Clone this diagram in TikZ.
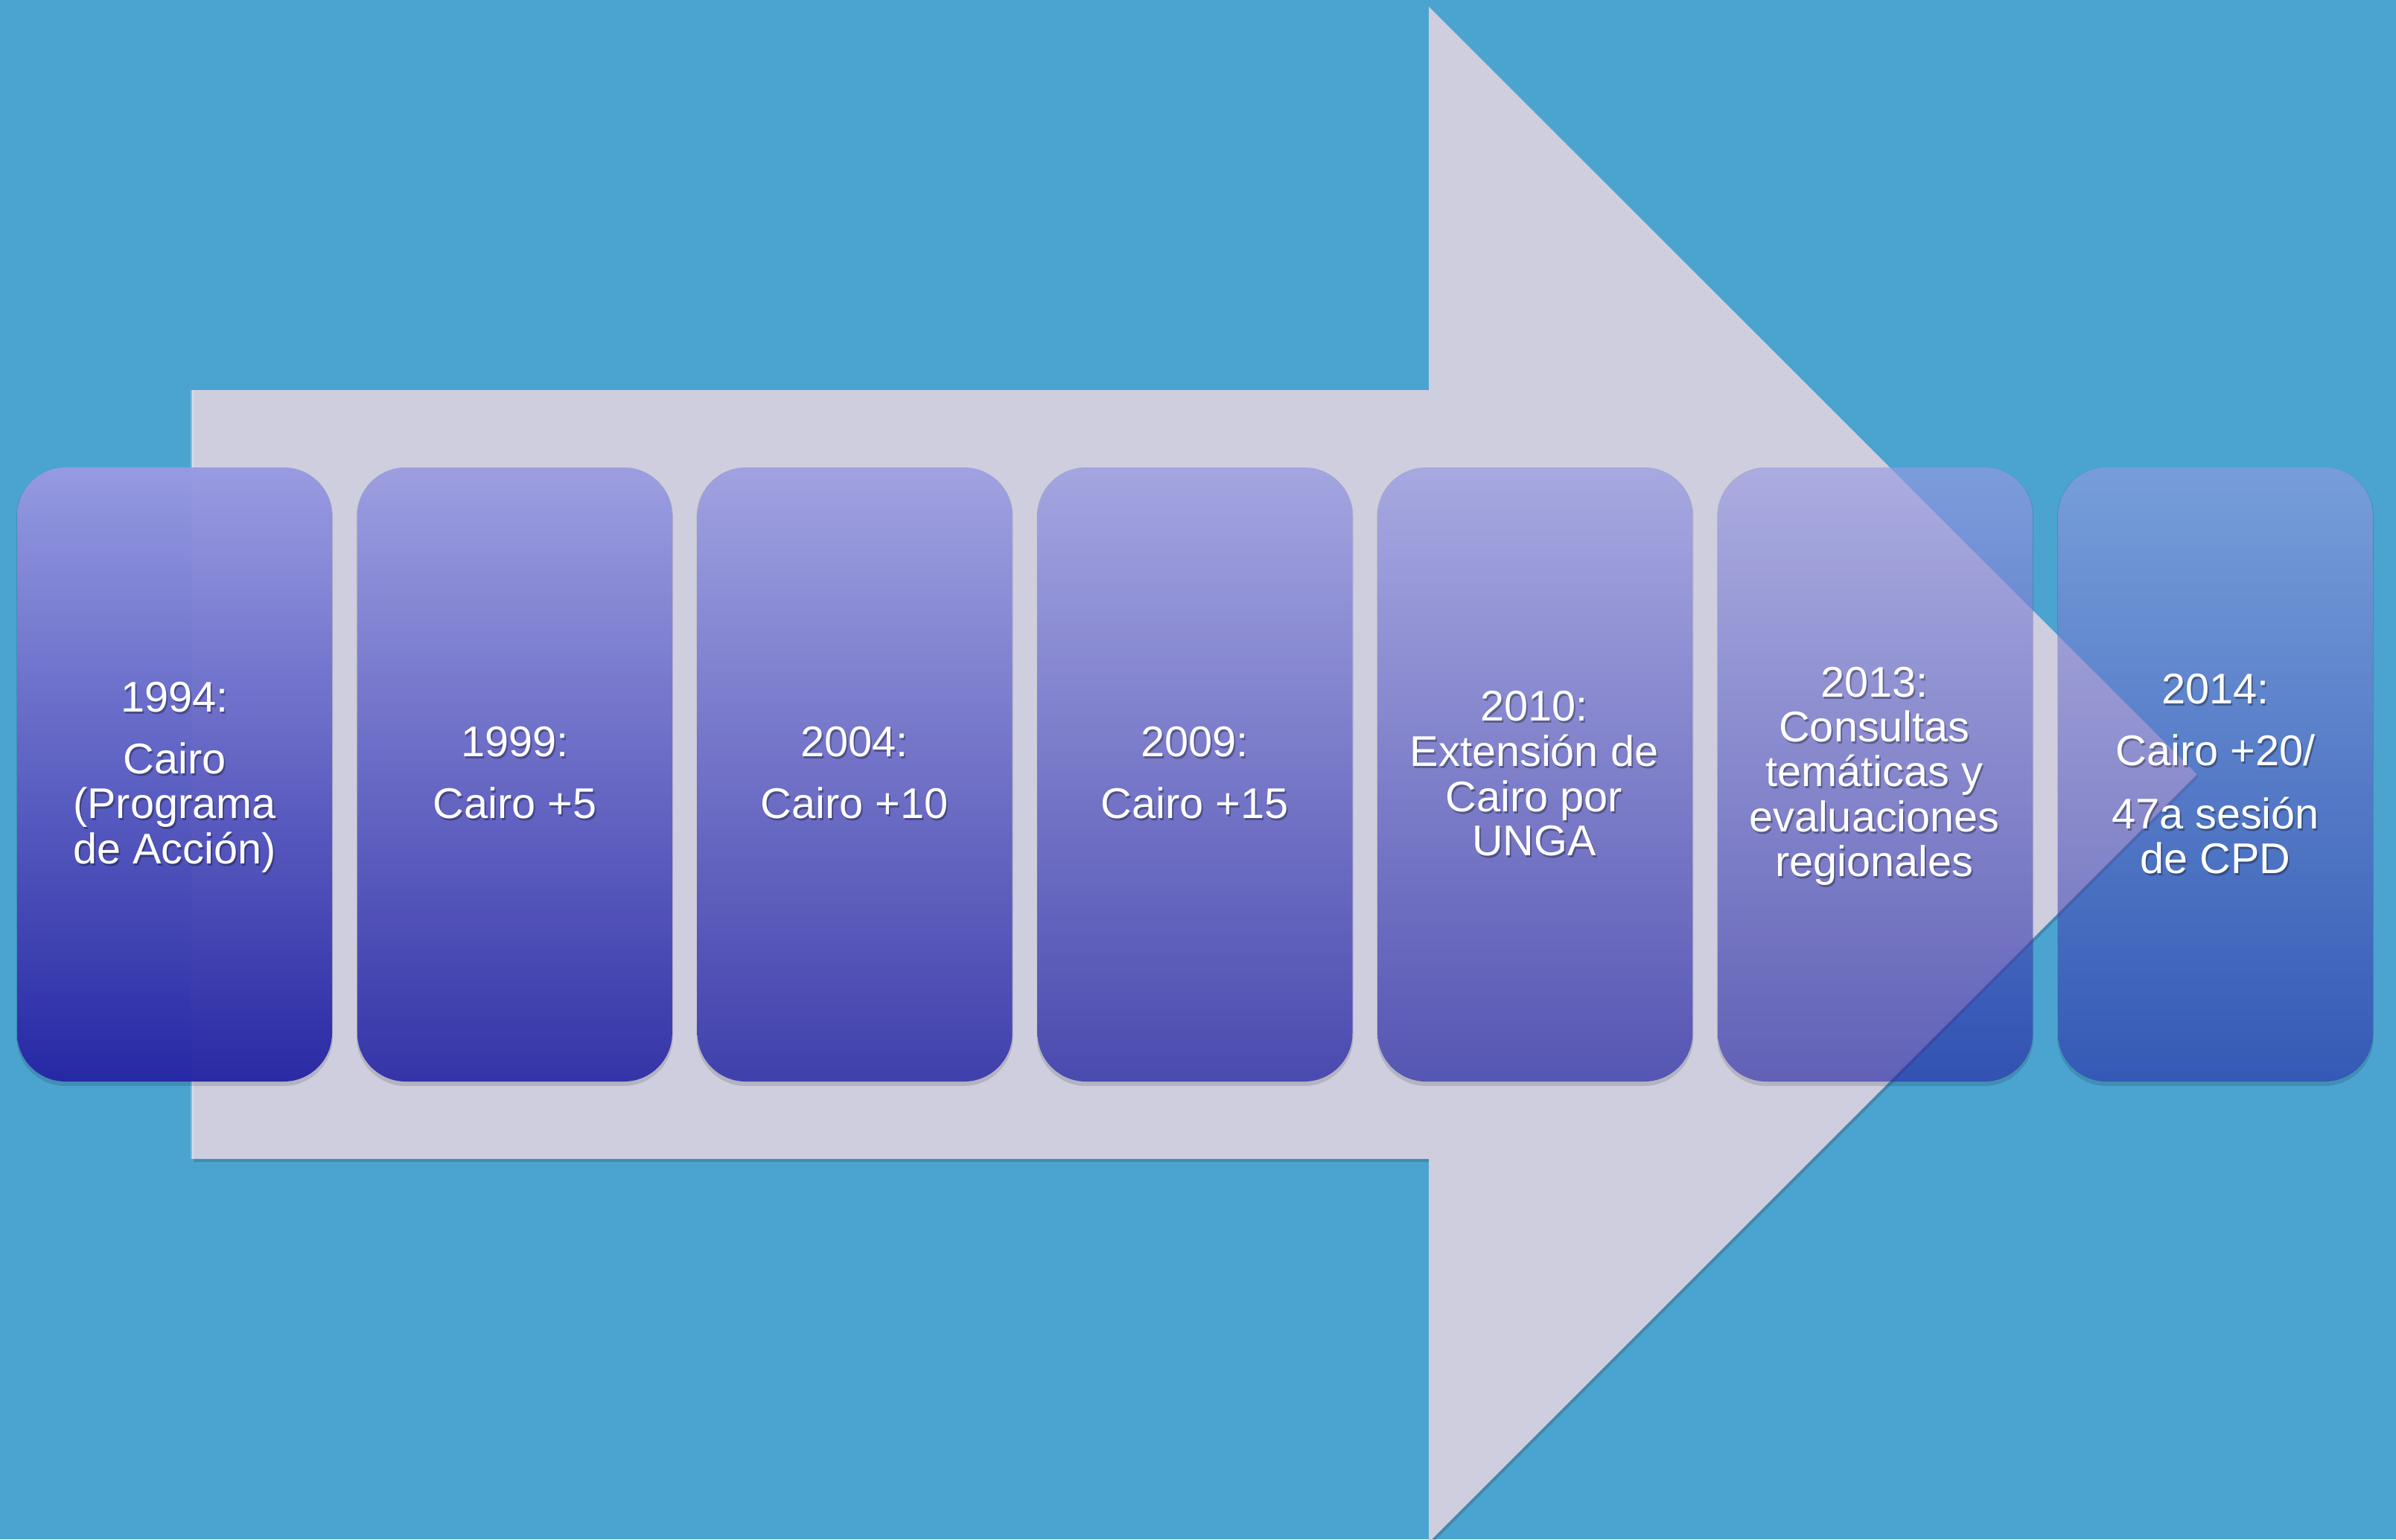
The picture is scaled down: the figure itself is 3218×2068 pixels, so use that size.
\documentclass[tikz,border=0pt]{standalone}
\usepackage{fontspec}
\setmainfont{Liberation Sans}
\definecolor{bgc}{RGB}{75,164,208}
\definecolor{arrowc}{RGB}{206,206,222}
\definecolor{btop}{RGB}{152,154,226}
\definecolor{bbot}{RGB}{37,37,163}
\newcommand\boxline[4]{%
  \node[txtsh, anchor=base] at (#2+2,#3+3) {#4};
  \node[txt, anchor=base] (#1) at (#2,#3) {#4};}
\begin{document}
\begin{tikzpicture}[x=0.01cm,y=-0.01cm,
  txt/.style={text=white, inner sep=0pt, font=\fontsize{16.4}{19}\selectfont},
  txtsh/.style={text=black, text opacity=0.3, inner sep=0pt, font=\fontsize{16.4}{19}\selectfont}]
\useasboundingbox (0,0) rectangle (3218,2068);
\fill[bgc] (0,0) rectangle (3218,2068);
% arrow shadow
\fill[black!70!bgc, opacity=0.22] (260,528) -- (1921,528) -- (1921,13) -- (2953,1044) -- (1921,2076) -- (1921,1561) -- (260,1561) -- cycle;
% arrow
\fill[arrowc] (258,524) -- (1919,524) -- (1919,9) -- (2950.5,1040.5) -- (1919,2072) -- (1919,1557) -- (258,1557) -- cycle;
\draw[white, opacity=0.3, line width=1.2pt] (258,1557) -- (258,524);
% boxes
\foreach \i/\a in {1/0.97,2/0.905,3/0.84,4/0.775,5/0.71,6/0.645,7/0.58}{
  \pgfmathsetmacro{\xl}{23+(\i-1)*456.83}
  \fill[black, opacity=0.13, even odd rule, rounded corners=0.66cm]
    (\xl-1,628) rectangle ++(425,831) (\xl,628) rectangle ++(423,825);
  \shade[top color=btop, bottom color=bbot, fill opacity=\a, rounded corners=0.65cm]
    (\xl,628) rectangle ++(423,825);
}
% texts
\boxline{a1}{234.5}{956}{1994:}
\boxline{a2}{234.5}{1039}{Cairo}
\boxline{a3}{234.5}{1099}{(Programa}
\boxline{a4}{234.5}{1160}{de Acción)}
\boxline{b1}{691.5}{1016}{1999:}
\boxline{b2}{691.5}{1099}{Cairo +5}
\boxline{c1}{1147.5}{1016}{2004:}
\boxline{c2}{1147.5}{1099}{Cairo +10}
\boxline{d1}{1604.5}{1016}{2009:}
\boxline{d2}{1604.5}{1099}{Cairo +15}
\boxline{e1}{2060.5}{968}{2010:}
\boxline{e2}{2060.5}{1029}{Extensión de}
\boxline{e3}{2060.5}{1090}{Cairo por}
\boxline{e4}{2060.5}{1149}{UNGA}
\boxline{f1}{2517.5}{936}{2013:}
\boxline{f2}{2517.5}{996}{Consultas}
\boxline{f3}{2517.5}{1056}{temáticas y}
\boxline{f4}{2517.5}{1117}{evaluaciones}
\boxline{f5}{2517.5}{1177}{regionales}
\boxline{g1}{2975.5}{945}{2014:}
\boxline{g2}{2975.5}{1028}{Cairo +20/}
\boxline{g3}{2975.5}{1113}{47a sesión}
\boxline{g4}{2975.5}{1173}{de CPD}
\end{tikzpicture}
\end{document}
